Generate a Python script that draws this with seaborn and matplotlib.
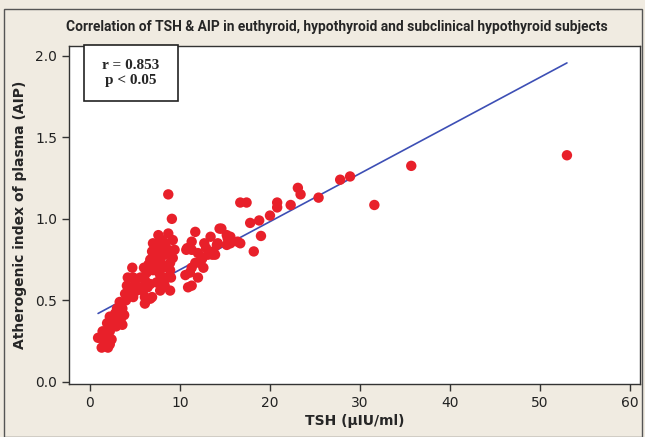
import numpy as np
import pandas as pd
import matplotlib
matplotlib.use('Agg')
import matplotlib.pyplot as plt
from matplotlib.patches import Rectangle
import seaborn as sns

# TSH (µIU/ml) ve AIP degerleri
tsh = [0.9, 1.7, 2.4, 1.4, 2.2, 1.3, 2.0, 1.6, 2.2, 1.9, 2.6, 3.6, 2.2, 3.1,
       3.0, 3.6, 3.3, 3.9, 4.7, 4.1, 4.2, 4.8, 4.7, 2.8, 3.8, 4.0, 5.6, 6.1,
       5.9, 6.4, 6.1, 6.7, 6.1, 6.9, 5.2, 4.8, 6.3, 5.9, 7.0, 6.7, 7.4, 7.0,
       7.6, 6.9, 7.4, 6.7, 7.2, 7.8, 8.0, 8.6, 8.9, 8.1, 8.7, 9.1, 8.7, 9.2,
       9.4, 9.2, 8.7, 7.8, 7.6, 8.0, 8.3, 8.9, 7.2, 7.8, 8.3, 8.9, 7.8,
       5.0, 5.5, 6.5, 7.5, 8.2, 6.0, 7.2, 8.4, 9.0, 3.4, 2.9,
       10.8, 11.3, 11.7, 10.6, 10.9, 11.3, 12.0, 12.2, 12.6, 13.1, 13.7, 14.1,
       14.4, 15.2, 15.6, 15.3, 16.4, 10.7, 11.3, 12.0, 12.4, 11.7, 11.3, 11.1,
       12.7, 13.4, 14.2, 13.9, 14.6, 15.6, 15.2, 12.9, 13.6, 12.5,
       16.7, 17.4, 16.7, 17.8, 18.8, 19.0, 18.2, 20.0, 20.8, 20.8, 22.3, 23.1,
       23.4, 25.4, 27.8, 28.9, 31.6, 35.7, 53.0]
aip = [0.27, 0.27, 0.26, 0.31, 0.31, 0.21, 0.21, 0.24, 0.23, 0.36, 0.36, 0.35,
       0.40, 0.40, 0.45, 0.45, 0.49, 0.54, 0.55, 0.59, 0.64, 0.64, 0.70, 0.42,
       0.41, 0.50, 0.64, 0.625, 0.56, 0.58, 0.52, 0.51, 0.48, 0.52, 0.56, 0.52,
       0.67, 0.64, 0.685, 0.60, 0.61, 0.85, 0.85, 0.80, 0.80, 0.75, 0.75, 0.75,
       0.72, 0.64, 0.685, 0.70, 1.15, 1.00, 0.91, 0.87, 0.81, 0.76, 0.81, 0.82,
       0.90, 0.87, 0.78, 0.73, 0.70, 0.655, 0.59, 0.56, 0.56,
       0.60, 0.58, 0.72, 0.68, 0.62, 0.70, 0.80, 0.85, 0.64, 0.38, 0.34,
       0.82, 0.86, 0.92, 0.655, 0.58, 0.59, 0.64, 0.73, 0.70, 0.78, 0.80, 0.84,
       0.94, 0.90, 0.85, 0.88, 0.86, 0.81, 0.81, 0.79, 0.75, 0.73, 0.70, 0.67,
       0.85, 0.89, 0.85, 0.78, 0.94, 0.89, 0.84, 0.82, 0.78, 0.76,
       1.10, 1.10, 0.85, 0.975, 0.99, 0.895, 0.80, 1.02, 1.10, 1.07, 1.085, 1.19,
       1.15, 1.13, 1.24, 1.26, 1.085, 1.325, 1.39]

# Regresyon dogrusu (grafikten okunan egim ve kesisim)
egim = 0.0295
kesisim = 0.393
r_degeri = 0.853

x_ticks = [0, 10, 20, 30, 40, 50, 60]
y_ticks = [0.0, 0.5, 1.0, 1.5, 2.0]

df = pd.DataFrame({'tsh': tsh, 'aip': aip})
cizgi = pd.DataFrame({'tsh': [df['tsh'].min(), df['tsh'].max()]})
cizgi['aip'] = kesisim + egim * cizgi['tsh']

sns.set_style('ticks')
plt.rcParams['font.family'] = ['DejaVu Sans']

arka_plan = '#f0ebe1'
fig = plt.figure(figsize=(6.45, 4.37), dpi=100, facecolor=arka_plan)
ax = fig.add_axes([0.107, 0.121, 0.885, 0.774])
ax.set_facecolor('white')

sns.scatterplot(data=df, x='tsh', y='aip', color='#e8202a', s=56,
                linewidth=0, edgecolor='none', ax=ax, zorder=3)
sns.lineplot(data=cizgi, x='tsh', y='aip', color='#3d4fb5', linewidth=1.2,
             ax=ax, zorder=2)

ax.set_xlim(-2.33, 61.1)
ax.set_ylim(-0.014, 2.061)
ax.set_xticks(x_ticks)
ax.set_xticklabels([str(t) for t in x_ticks])
ax.set_yticks(y_ticks)
ax.set_yticklabels([f'{t:.1f}' for t in y_ticks])
ax.tick_params(direction='out', length=5, width=1, colors='#333333',
               labelsize=10, labelcolor='#222222')
for sp in ax.spines.values():
    sp.set_visible(True)
    sp.set_color('#333333')
    sp.set_linewidth(1.0)

ax.set_xlabel('TSH (µIU/ml)', fontsize=10, fontweight='bold', labelpad=3)
ax.set_ylabel('Atherogenic index of plasma (AIP)', fontsize=10,
              fontweight='bold', labelpad=6)

fig.text(0.523, 0.938,
         'Correlation of TSH & AIP in euthyroid, hypothyroid and subclinical hypothyroid subjects',
         ha='center', va='center', fontsize=9.9, fontweight='bold',
         family=['Roboto', 'DejaVu Sans'])

# r ve p kutusu
kutu = Rectangle((84 / 645, 1 - 101 / 437), 94 / 645, 56 / 437,
                 transform=fig.transFigure, facecolor='white',
                 edgecolor='#222222', linewidth=1.2, zorder=5)
fig.patches.append(kutu)
fig.text(131 / 645, 1 - 73 / 437, f'r = {r_degeri}\np < 0.05', ha='center',
         va='center', fontsize=11, fontweight='bold', linespacing=1.25,
         family=['Liberation Serif', 'DejaVu Serif'], zorder=6)

# dis cerceve
cerceve = Rectangle((4 / 645, 0), 638 / 645, 1 - 9 / 437,
                    transform=fig.transFigure, facecolor='none',
                    edgecolor='#555555', linewidth=1.0)
fig.patches.append(cerceve)

plt.savefig('out.png', dpi=100, facecolor=arka_plan)
